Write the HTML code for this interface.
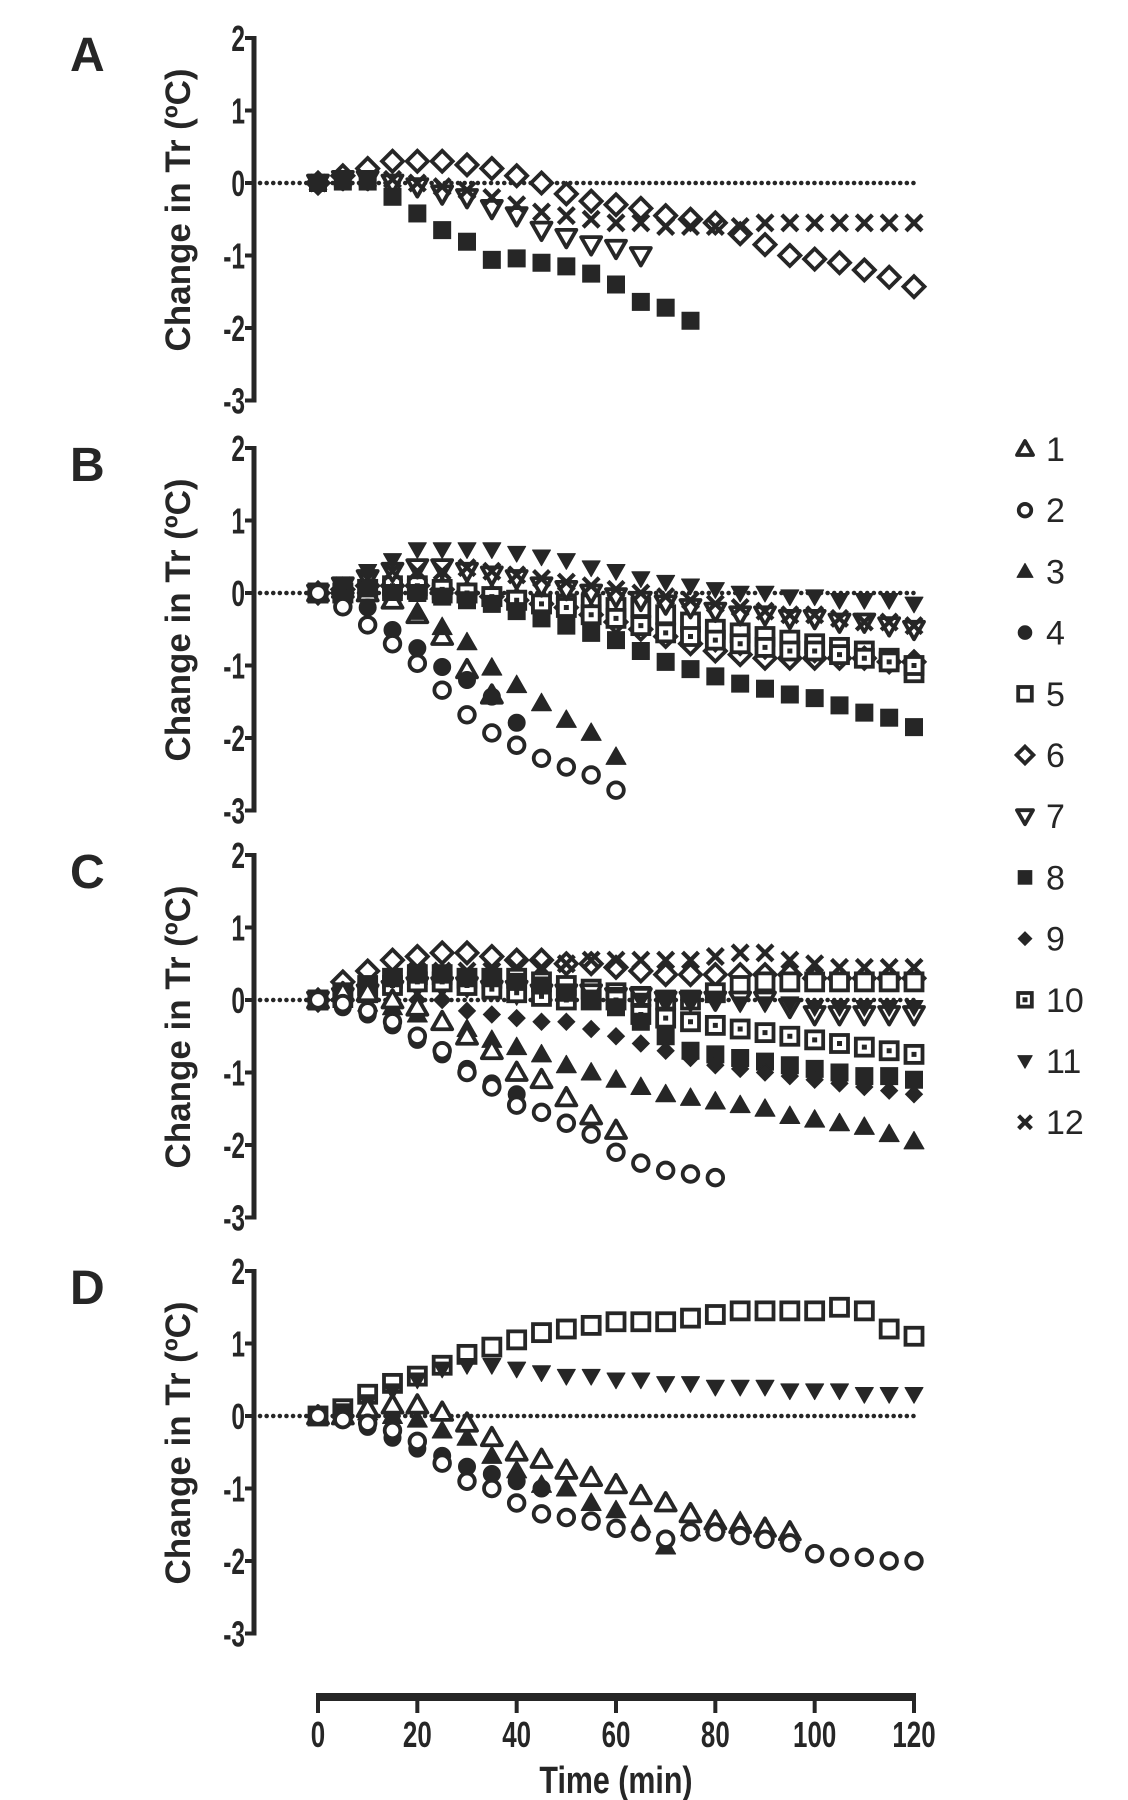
<!DOCTYPE html>
<html><head><meta charset="utf-8"><style>
html,body{margin:0;padding:0;background:#fff;}
svg{display:block;}
text{font-family:"Liberation Sans",sans-serif;fill:#262626;}
</style></head><body>
<svg id="chart" width="1128" height="1800" viewBox="0 0 1128 1800" xmlns="http://www.w3.org/2000/svg"></svg>
<script>
// ---- data (5-min steps, 0..120 min; null = no value) ----
const timePoints = [0,5,10,15,20,25,30,35,40,45,50,55,60,65,70,75,80,85,90,95,100,105,110,115,120];
const xTicks = [0,20,40,60,80,100,120];
const yTicks = [2,1,0,-1,-2,-3];
const seriesIds = [1,2,3,4,5,6,7,8,9,10,11,12];

// Panel A
const A6 = [0,0.1,0.2,0.3,0.3,0.3,0.25,0.2,0.1,0,-0.15,-0.25,-0.3,-0.35,-0.45,-0.5,-0.55,-0.7,-0.85,-1.0,-1.05,-1.1,-1.2,-1.3,-1.43];
const A7 = [0,0.05,0.05,0,-0.05,-0.15,-0.2,-0.35,-0.45,-0.65,-0.75,-0.85,-0.9,-1.0];
const A8 = [0,0.02,0.02,-0.19,-0.42,-0.65,-0.81,-1.06,-1.04,-1.1,-1.15,-1.25,-1.4,-1.64,-1.72,-1.9];
const A12 = [0,0.05,0.05,0.05,0,-0.05,-0.1,-0.2,-0.3,-0.4,-0.45,-0.5,-0.55,-0.55,-0.6,-0.6,-0.6,-0.6,-0.55,-0.55,-0.55,-0.55,-0.55,-0.55,-0.55];

// Panel B
const B1 = [0,0.05,0,-0.1,-0.3,-0.6,-1.06,-1.41];
const B2 = [0,-0.19,-0.44,-0.7,-0.97,-1.34,-1.68,-1.93,-2.1,-2.28,-2.4,-2.51,-2.72];
const B3 = [0,0.05,0.05,0,-0.26,-0.47,-0.68,-1.03,-1.27,-1.52,-1.75,-1.93,-2.26];
const B4 = [0,-0.05,-0.2,-0.51,-0.76,-1.02,-1.2,-1.43,-1.79];
const B5 = [0,0,0.05,0.05,0.05,0,0,-0.05,-0.1,-0.15,-0.15,-0.15,-0.2,-0.2,-0.3,-0.4,-0.5,-0.55,-0.6,-0.65,-0.7,-0.75,-0.8,-0.9,-1.1];
const B6 = [0,0.05,0.1,0.1,0.1,0.05,0,-0.05,-0.1,-0.15,-0.2,-0.3,-0.4,-0.5,-0.6,-0.7,-0.8,-0.85,-0.9,-0.9,-0.9,-0.9,-0.9,-0.95,-0.95];
const B7 = [0,0.1,0.2,0.3,0.35,0.35,0.3,0.25,0.2,0.1,0.05,0,-0.05,-0.1,-0.15,-0.2,-0.25,-0.3,-0.3,-0.35,-0.35,-0.4,-0.4,-0.45,-0.5];
const B8 = [0,0,0,0,0,-0.05,-0.1,-0.15,-0.25,-0.35,-0.45,-0.55,-0.65,-0.8,-0.95,-1.05,-1.15,-1.25,-1.32,-1.4,-1.45,-1.55,-1.65,-1.72,-1.85];
const B9 = [0,0.05,0.1,0.15,0.15,0.1,0.05,0,-0.05,-0.1,-0.15,-0.25,-0.35,-0.45,-0.55,-0.6,-0.7,-0.75,-0.8,-0.8,-0.85,-0.85,-0.85,-0.9,-0.9];
const B10 = [0,0,0.05,0.1,0.1,0.05,0,-0.05,-0.1,-0.15,-0.2,-0.3,-0.35,-0.45,-0.55,-0.6,-0.65,-0.7,-0.75,-0.8,-0.8,-0.85,-0.9,-0.95,-1.0];
const B11 = [0,0.1,0.3,0.45,0.6,0.6,0.6,0.6,0.55,0.5,0.45,0.35,0.3,0.2,0.15,0.1,0.05,0,0,-0.05,-0.05,-0.1,-0.1,-0.1,-0.15];
const B12 = [0,0.1,0.2,0.3,0.3,0.3,0.35,0.3,0.25,0.2,0.15,0.1,0.05,0,-0.05,-0.1,-0.15,-0.2,-0.25,-0.3,-0.3,-0.35,-0.4,-0.4,-0.45];

// Panel C
const C1 = [0,0.1,0.1,0,-0.1,-0.3,-0.5,-0.7,-1.0,-1.1,-1.35,-1.6,-1.8];
const C2 = [0,-0.05,-0.15,-0.3,-0.5,-0.7,-1.0,-1.2,-1.45,-1.55,-1.7,-1.85,-2.1,-2.25,-2.35,-2.4,-2.45];
const C3 = [0,0,-0.05,-0.1,-0.2,-0.3,-0.4,-0.55,-0.65,-0.75,-0.9,-1.0,-1.1,-1.2,-1.3,-1.35,-1.4,-1.45,-1.5,-1.6,-1.65,-1.7,-1.75,-1.85,-1.95];
const C4 = [0,-0.1,-0.2,-0.35,-0.55,-0.75,-0.95,-1.15,-1.3];
const C5 = [0,0.1,0.2,0.3,0.35,0.35,0.3,0.3,0.3,0.25,0.2,0.15,0.1,0.05,0,0,0.1,0.2,0.25,0.25,0.25,0.25,0.25,0.25,0.25];
const C6 = [0,0.25,0.4,0.55,0.6,0.65,0.65,0.6,0.55,0.55,0.5,0.5,0.45,0.4,0.35,0.35,0.35,0.35,0.35,0.35,0.3,0.3,0.3,0.3,0.3];
const C7 = [0,0.05,0.1,0.15,0.2,0.2,0.2,0.15,0.15,0.1,0.1,0.1,0.05,0.05,0,0,0,0,0,-0.1,-0.2,-0.2,-0.2,-0.2,-0.2];
const C8 = [0,0.1,0.2,0.3,0.35,0.35,0.3,0.3,0.25,0.2,0.1,0,-0.1,-0.3,-0.5,-0.7,-0.75,-0.8,-0.85,-0.9,-0.95,-1.0,-1.05,-1.05,-1.1];
const C9 = [0,0.05,0.05,0,0,0,-0.15,-0.2,-0.25,-0.3,-0.3,-0.4,-0.5,-0.6,-0.7,-0.8,-0.9,-0.95,-1.0,-1.05,-1.1,-1.15,-1.2,-1.25,-1.3];
const C10 = [0,0.05,0.1,0.2,0.25,0.25,0.2,0.15,0.1,0.05,0,0,0,-0.2,-0.25,-0.3,-0.35,-0.4,-0.45,-0.5,-0.55,-0.6,-0.65,-0.7,-0.75];
const C11 = [0,0.05,0.1,0.15,0.2,0.2,0.15,0.1,0.05,0.05,0,0,0,0,0,0,0,-0.05,-0.05,-0.05,-0.1,-0.1,-0.1,-0.1,-0.1];
const C12 = [0,0.1,0.2,0.3,0.4,0.4,0.4,0.4,0.45,0.45,0.5,0.55,0.55,0.55,0.55,0.55,0.6,0.65,0.65,0.55,0.5,0.45,0.45,0.45,0.45];

// Panel D
const D1 = [0,0,0.1,0.15,0.15,0.05,-0.1,-0.3,-0.5,-0.6,-0.75,-0.85,-0.95,-1.1,-1.2,-1.35,-1.45,-1.5,-1.55,-1.6];
const D2 = [0,-0.05,-0.1,-0.2,-0.35,-0.65,-0.9,-1.0,-1.2,-1.35,-1.4,-1.45,-1.55,-1.6,-1.7,-1.6,-1.6,-1.65,-1.7,-1.75,-1.9,-1.95,-1.95,-2.0,-2.0];
const D3 = [0,0,0.05,0,-0.05,-0.2,-0.3,-0.55,-0.75,-0.95,-1.0,-1.2,-1.3,-1.5,-1.8,-1.55,-1.5,-1.45,-1.55,-1.65];
const D4 = [0,-0.05,-0.15,-0.3,-0.45,-0.55,-0.7,-0.8,-0.9,-1.0];
const D5 = [0,0.1,0.3,0.45,0.55,0.7,0.85,0.95,1.05,1.15,1.2,1.25,1.3,1.3,1.3,1.35,1.4,1.45,1.45,1.45,1.45,1.5,1.45,1.2,1.1];
const D8 = [0,0.05];
const D11 = [0,0.05,0.2,0.35,0.5,0.65,0.7,0.7,0.65,0.6,0.55,0.55,0.5,0.5,0.45,0.45,0.4,0.4,0.4,0.35,0.35,0.35,0.3,0.3,0.3];

const panelLabels = ["A","B","C","D"];
const panelZero = [183,593,1000,1416];
const panelSeries = [
  [[6,A6],[7,A7],[12,A12],[8,A8]],
  [[5,B5],[6,B6],[9,B9],[10,B10],[7,B7],[12,B12],[11,B11],[8,B8],[1,B1],[3,B3],[4,B4],[2,B2]],
  [[6,C6],[12,C12],[5,C5],[7,C7],[11,C11],[10,C10],[8,C8],[9,C9],[3,C3],[4,C4],[1,C1],[2,C2]],
  [[5,D5],[11,D11],[8,D8],[4,D4],[3,D3],[1,D1],[2,D2]]
];

// ---- layout ----
const NS = "http://www.w3.org/2000/svg";
const svg = document.getElementById('chart');
const INK = "#262626";
const X0 = 318, X1 = 914, AXX = 254, UNIT = 72.5;
function xScale(t){ return X0 + (t/120)*(X1-X0); }
function yScale(v, p){ return panelZero[p] - v*UNIT; }
function mk(tag, attrs, parent){
  const e = document.createElementNS(NS, tag);
  for (const k in attrs) e.setAttribute(k, attrs[k]);
  (parent||svg).appendChild(e);
  return e;
}
function marker(id, cx, cy, g, s){
  s = s || 10;
  const sw = 3.8;
  let e;
  if (id===1 || id===3){
    const pts = `${cx},${cy-s} ${cx+s},${cy+s*0.75} ${cx-s},${cy+s*0.75}`;
    e = mk('polygon',{points:pts, fill:id===3?INK:'#fff', stroke:INK, 'stroke-width':id===3?1:sw, 'stroke-linejoin':'round'},g);
  } else if (id===7 || id===11){
    const k = id===11?0.9:1;
    const pts = `${cx-s*k},${cy-s*0.75*k} ${cx+s*k},${cy-s*0.75*k} ${cx},${cy+s*k}`;
    e = mk('polygon',{points:pts, fill:id===11?INK:'#fff', stroke:INK, 'stroke-width':id===11?1:sw, 'stroke-linejoin':'round'},g);
  } else if (id===2 || id===4){
    e = mk('circle',{cx:cx, cy:cy, r:id===4?s*0.85:s*0.78, fill:id===4?INK:'#fff', stroke:INK, 'stroke-width':id===4?1:sw},g);
  } else if (id===5 || id===8 || id===10){
    const h = s*0.85;
    e = mk('rect',{x:cx-h, y:cy-h, width:2*h, height:2*h, fill:id===8?INK:'#fff', stroke:INK, 'stroke-width':id===8?1:sw},g);
    if (id===10) mk('rect',{x:cx-2.5, y:cy-2.5, width:5, height:5, fill:INK},g);
  } else if (id===6 || id===9){
    const k = id===9?0.85:1.05;
    const pts = `${cx},${cy-s*k} ${cx+s*k},${cy} ${cx},${cy+s*k} ${cx-s*k},${cy}`;
    e = mk('polygon',{points:pts, fill:id===9?INK:'#fff', stroke:INK, 'stroke-width':id===9?1:sw},g);
  } else if (id===12){
    const d = s*0.8;
    e = mk('path',{d:`M${cx-d},${cy-d}L${cx+d},${cy+d}M${cx+d},${cy-d}L${cx-d},${cy+d}`, stroke:INK, 'stroke-width':4.2, fill:'none'},g);
  }
  return e;
}

panelLabels.forEach((lab, p) => {
  const g = mk('g',{});
  
  
  const z = panelZero[p];
  const L = mk('text',{x:70, y:z-112, 'font-size':48, 'font-weight':'bold'}, g);
  L.textContent = lab;
  
  
  // y axis
  const ax = mk('line',{x1:AXX, y1:yScale(2,p)-2, x2:AXX, y2:yScale(-3,p)+2, stroke:INK, 'stroke-width':5}, g);
  
  
  yTicks.forEach(v => {
    const y = yScale(v,p);
    mk('line',{x1:AXX-9, y1:y, x2:AXX, y2:y, stroke:INK, 'stroke-width':4}, g);
    const t = mk('text',{x:AXX-9, y:y+13, 'text-anchor':'end', 'font-size':36, 'font-weight':'bold', transform:`translate(${AXX-9},0) scale(0.68,1) translate(${-(AXX-9)},0)`}, g);
    t.textContent = v;
    
    
  });
  const cy = z + 27;
  const yt = mk('text',{x:178, y:cy, 'text-anchor':'middle', 'font-size':35, 'font-weight':'bold', transform:`rotate(-90 178 ${cy}) translate(0,12)`}, g);
  yt.textContent = 'Change in Tr (ºC)';
  
  
  // zero dotted line
  const zl = mk('line',{x1:AXX+6, y1:z, x2:X1, y2:z, stroke:INK, 'stroke-width':4.5, 'stroke-dasharray':'0.1 6.5', 'stroke-linecap':'round'}, g);
  
  
  // series
  panelSeries[p].forEach(([id, vals]) => {
    const sg = mk('g',{}, g);
    
    
    vals.forEach((v, i) => {
      if (v === null || v === undefined) return;
      const m = marker(id, xScale(timePoints[i]), yScale(v,p), sg);
      
      
    });
  });
});

// x axis
const xg = mk('g',{});


mk('line',{x1:X0-2, y1:1697, x2:X1+2, y2:1697, stroke:INK, 'stroke-width':8}, xg);
xTicks.forEach(t => {
  const x = xScale(t);
  mk('line',{x1:x, y1:1697, x2:x, y2:1713, stroke:INK, 'stroke-width':4}, xg);
  const tl = mk('text',{x:x, y:1747, 'text-anchor':'middle', 'font-size':36, 'font-weight':'bold', transform:`translate(${x},0) scale(0.72,1) translate(${-x},0)`}, xg);
  tl.textContent = t;
  
  
});
const xt = mk('text',{x:616, y:1793, 'text-anchor':'middle', 'font-size':38, 'font-weight':'bold', transform:'translate(616,0) scale(0.8,1) translate(-616,0)'}, xg);
xt.textContent = 'Time (min)';



// legend
const lg = mk('g',{});


seriesIds.forEach((id, i) => {
  const y = 449 + i*61.2;
  const eg = mk('g',{}, lg);
  
  
  marker(id, 1025, y, eg, 8);
  const t = mk('text',{x:1046, y:y+12, 'font-size':34}, eg);
  t.textContent = id;
});
</script>
</body></html>
